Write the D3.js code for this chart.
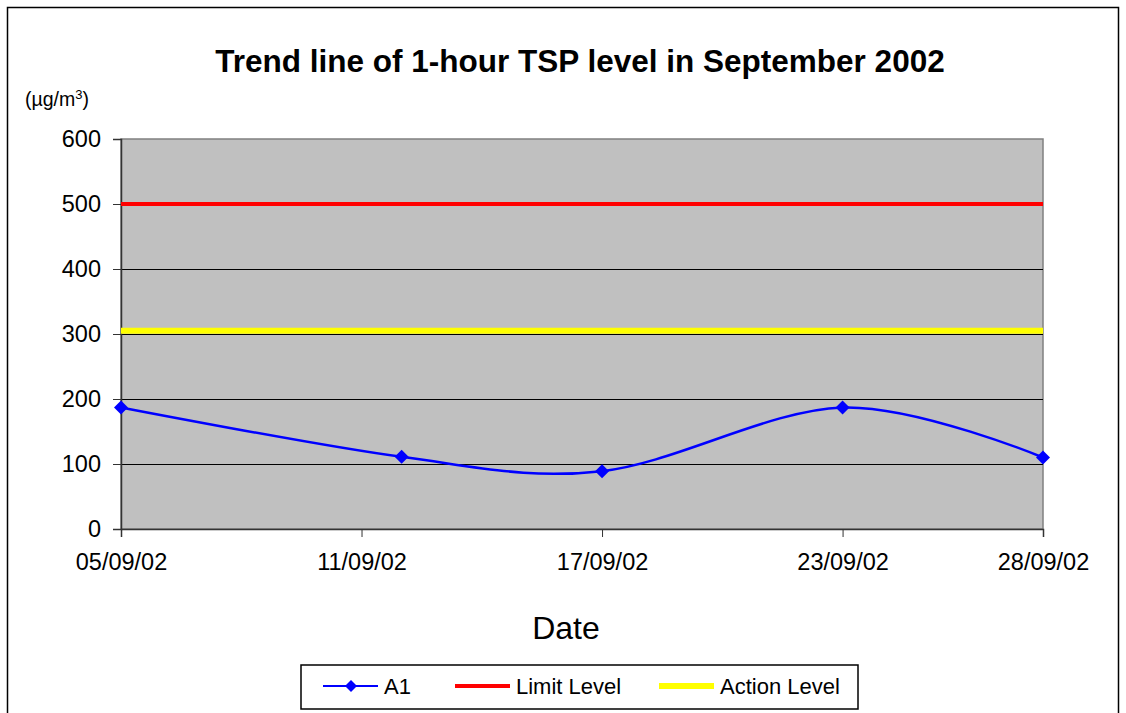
<!DOCTYPE html>
<html><head><meta charset="utf-8">
<script src="https://cdn.jsdelivr.net/npm/d3@7"></script>
<style>body{margin:0;background:#fff;} svg{display:block;font-family:"Liberation Sans",Arial,sans-serif;}</style>
</head><body>
<svg id="c" width="1126" height="713"></svg>
<script>
const dates = ["2002-09-05","2002-09-12","2002-09-17","2002-09-23","2002-09-28"];
const a1Values = [187, 111, 89, 187, 110];
const limitLevel = 500;
const actionLevel = 305;
const xTickLabels = ["05/09/02","11/09/02","17/09/02","23/09/02","28/09/02"];
const xTickDates = ["2002-09-05","2002-09-11","2002-09-17","2002-09-23","2002-09-28"];
const yTicks = [0,100,200,300,400,500,600];

const parse = d3.timeParse("%Y-%m-%d");
const svg = d3.select("#c");
const L=121, R=1043, T=139, B=529;

svg.append("rect").attr("x",7.5).attr("y",7.5).attr("width",1111).attr("height",720)
  .attr("fill","#fff").attr("stroke","#000").attr("stroke-width",1.5);

const x = d3.scaleTime().domain([parse(dates[0]), parse(dates[4])]).range([L,R]);
const y = d3.scaleLinear().domain([0,600]).range([B,T]);

svg.append("rect").attr("x",L).attr("y",T).attr("width",R-L).attr("height",B-T)
  .attr("fill","#c0c0c0").attr("stroke","#808080").attr("stroke-width",1.5);

// gridlines
svg.append("g").selectAll("line").data(yTicks.filter(v=>v>0&&v<600)).join("line")
  .attr("x1",L).attr("x2",R).attr("y1",d=>Math.round(y(d))+0.5).attr("y2",d=>Math.round(y(d))+0.5)
  .attr("stroke","#000").attr("stroke-width",1);

// y axis
const yAxis = svg.append("g").attr("transform",`translate(${L},0)`)
  .call(d3.axisLeft(y).tickValues(yTicks).tickSize(8).tickPadding(12).tickFormat(d3.format("d")));
yAxis.select(".domain").attr("stroke","#333").attr("stroke-width",1.5);
yAxis.selectAll(".tick line").attr("stroke","#333");
yAxis.selectAll("text").attr("font-size",23.5).attr("fill","#000");

// x axis
const xAxis = svg.append("g").attr("transform",`translate(0,${B})`)
  .call(d3.axisBottom(x).tickValues(xTickDates.map(parse)).tickSize(8).tickPadding(16)
    .tickFormat((d,i)=>xTickLabels[i]));
xAxis.select(".domain").attr("stroke","#333").attr("stroke-width",1.5);
xAxis.selectAll(".tick line").attr("stroke","#333");
xAxis.selectAll("text").attr("font-size",23.5).attr("fill","#000");

// reference lines
svg.append("line").attr("x1",L).attr("x2",R).attr("y1",y(limitLevel)).attr("y2",y(limitLevel))
  .attr("stroke","#ff0000").attr("stroke-width",4);
svg.append("line").attr("x1",L).attr("x2",R).attr("y1",y(actionLevel)).attr("y2",y(actionLevel))
  .attr("stroke","#ffff00").attr("stroke-width",6);

// A1 series
const pts = dates.map((d,i)=>[x(parse(d)), y(a1Values[i])]);
svg.append("path").attr("d", d3.line().curve(d3.curveCardinal.tension(0))(pts))
  .attr("fill","none").attr("stroke","#0000ff").attr("stroke-width",2.5);
svg.append("g").selectAll("path").data(pts).join("path")
  .attr("transform",d=>`translate(${d[0]},${d[1]})`)
  .attr("d","M0,-7L7,0L0,7L-7,0Z").attr("fill","#0000ff");

// title
svg.append("text").attr("x",580).attr("y",72).attr("text-anchor","middle")
  .attr("font-size",31.5).attr("font-weight","bold").text("Trend line of 1-hour TSP level in September 2002");
// unit
const u = svg.append("text").attr("x",25).attr("y",106).attr("font-size",19.5);
u.append("tspan").text("(µg/m");
u.append("tspan").attr("font-size",13).attr("dy",-7).text("3");
u.append("tspan").attr("dy",7).text(")");
// x title
svg.append("text").attr("x",566).attr("y",639).attr("text-anchor","middle").attr("font-size",32).text("Date");

// legend
const lg = svg.append("g");
lg.append("rect").attr("x",301).attr("y",665).attr("width",557).attr("height",44)
  .attr("fill","#fff").attr("stroke","#000").attr("stroke-width",1.5);
const ly = 686;
lg.append("line").attr("x1",323).attr("x2",378).attr("y1",ly).attr("y2",ly).attr("stroke","#0000ff").attr("stroke-width",2);
lg.append("path").attr("transform",`translate(351,${ly})`).attr("d","M0,-6L6,0L0,6L-6,0Z").attr("fill","#0000ff");
lg.append("text").attr("x",384).attr("y",ly+8).attr("font-size",22).text("A1");
lg.append("line").attr("x1",455).attr("x2",510).attr("y1",ly).attr("y2",ly).attr("stroke","#ff0000").attr("stroke-width",4);
lg.append("text").attr("x",516).attr("y",ly+8).attr("font-size",22).text("Limit Level");
lg.append("line").attr("x1",659).attr("x2",714).attr("y1",ly).attr("y2",ly).attr("stroke","#ffff00").attr("stroke-width",6);
lg.append("text").attr("x",720).attr("y",ly+8).attr("font-size",22).text("Action Level");
</script>
</body></html>
